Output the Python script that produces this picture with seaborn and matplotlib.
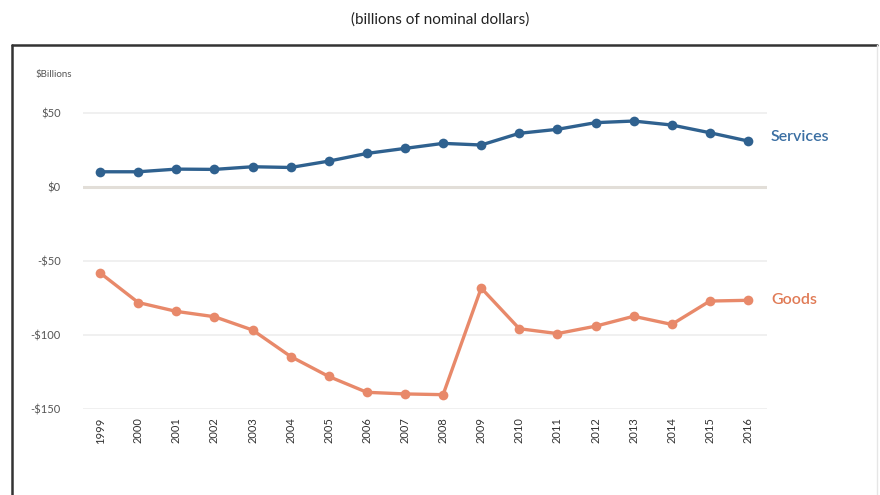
import matplotlib
matplotlib.use("Agg")
import matplotlib.pyplot as plt
import seaborn as sns
import pandas as pd
from matplotlib.lines import Line2D

years = list(range(1999, 2017))
services = [10.4, 10.4, 12.2, 12.0, 13.8, 13.3, 17.6, 22.8, 26.2, 29.6,
            28.5, 36.4, 39.1, 43.6, 44.7, 42.0, 36.8, 31.2]
goods = [-58.0, -78.0, -84.0, -87.6, -96.6, -114.5, -128.0, -138.7, -139.8, -140.3,
         -68.2, -95.7, -99.0, -94.0, -87.3, -92.8, -77.0, -76.5]
ytick_vals = [50, 0, -50, -100, -150]
ytick_labels = ["$50", "$0", "-$50", "-$100", "-$150"]
title = "(billions of nominal dollars)"
ylabel = "$Billions"

sns.set_theme(style="white")
plt.rcParams['font.family'] = ['Lato', 'DejaVu Sans']

df = pd.DataFrame({"year": years * 2,
                   "value": services + goods,
                   "series": ["Services"] * len(years) + ["Goods"] * len(years)})

blue = "#2f618f"
orange = "#e8896a"

fig = plt.figure(figsize=(8.8, 4.95), dpi=100)
ax = fig.add_axes([0.0943, 0.1737, 0.7773, 0.6275])

for yv in [50, -50, -100, -150]:
    ax.axhline(yv, color="#eeeeee", lw=1.2, zorder=0)
ax.axhline(0, color="#e2ded8", lw=2.2, zorder=0)

sns.lineplot(data=df, x="year", y="value", hue="series",
             palette={"Services": blue, "Goods": orange},
             marker="o", markersize=7, markeredgewidth=0, linewidth=2.4,
             legend=False, ax=ax)

ax.set_xlim(1998.55, 2016.5)
ax.set_ylim(-150, 60)
ax.set_xticks(years)
ax.set_xticklabels([str(y) for y in years], rotation=90, fontsize=8, color="#333333")
ax.set_yticks(ytick_vals)
ax.set_yticklabels(ytick_labels, fontsize=8, color="#555555")
ax.tick_params(axis="y", length=0, pad=16)
ax.tick_params(axis="x", length=0, pad=6)
ax.set_xlabel("")
ax.set_ylabel("")
for s in ax.spines.values():
    s.set_visible(False)

ax.text(1.005, (services[-1] + 3 - (-150)) / 210, "Services", transform=ax.transAxes,
        color="#3b6fa3", fontsize=11.5, va="center", ha="left", fontweight="semibold")
ax.text(1.007, (goods[-1] - (-150)) / 210, "Goods", transform=ax.transAxes,
        color="#e07a55", fontsize=11.5, va="center", ha="left", fontweight="semibold")

fig.text(35 / 880, 1 - 74 / 495, ylabel, fontsize=7, color="#555555", ha="left", va="center")
fig.text(0.5, 1 - 20 / 495, title, fontsize=11, color="#222222", ha="center", va="center")

x0, x1 = 12 / 880, 877 / 880
ytop = 1 - 45 / 495
fig.add_artist(Line2D([x0, x1], [ytop, ytop], transform=fig.transFigure, color="#333333", lw=1.8))
fig.add_artist(Line2D([x0, x0], [ytop, 0], transform=fig.transFigure, color="#333333", lw=1.8))
fig.add_artist(Line2D([x1, x1], [ytop, 0], transform=fig.transFigure, color="#e6e6e6", lw=1.0))

fig.savefig("out.png", dpi=100, facecolor="white")
